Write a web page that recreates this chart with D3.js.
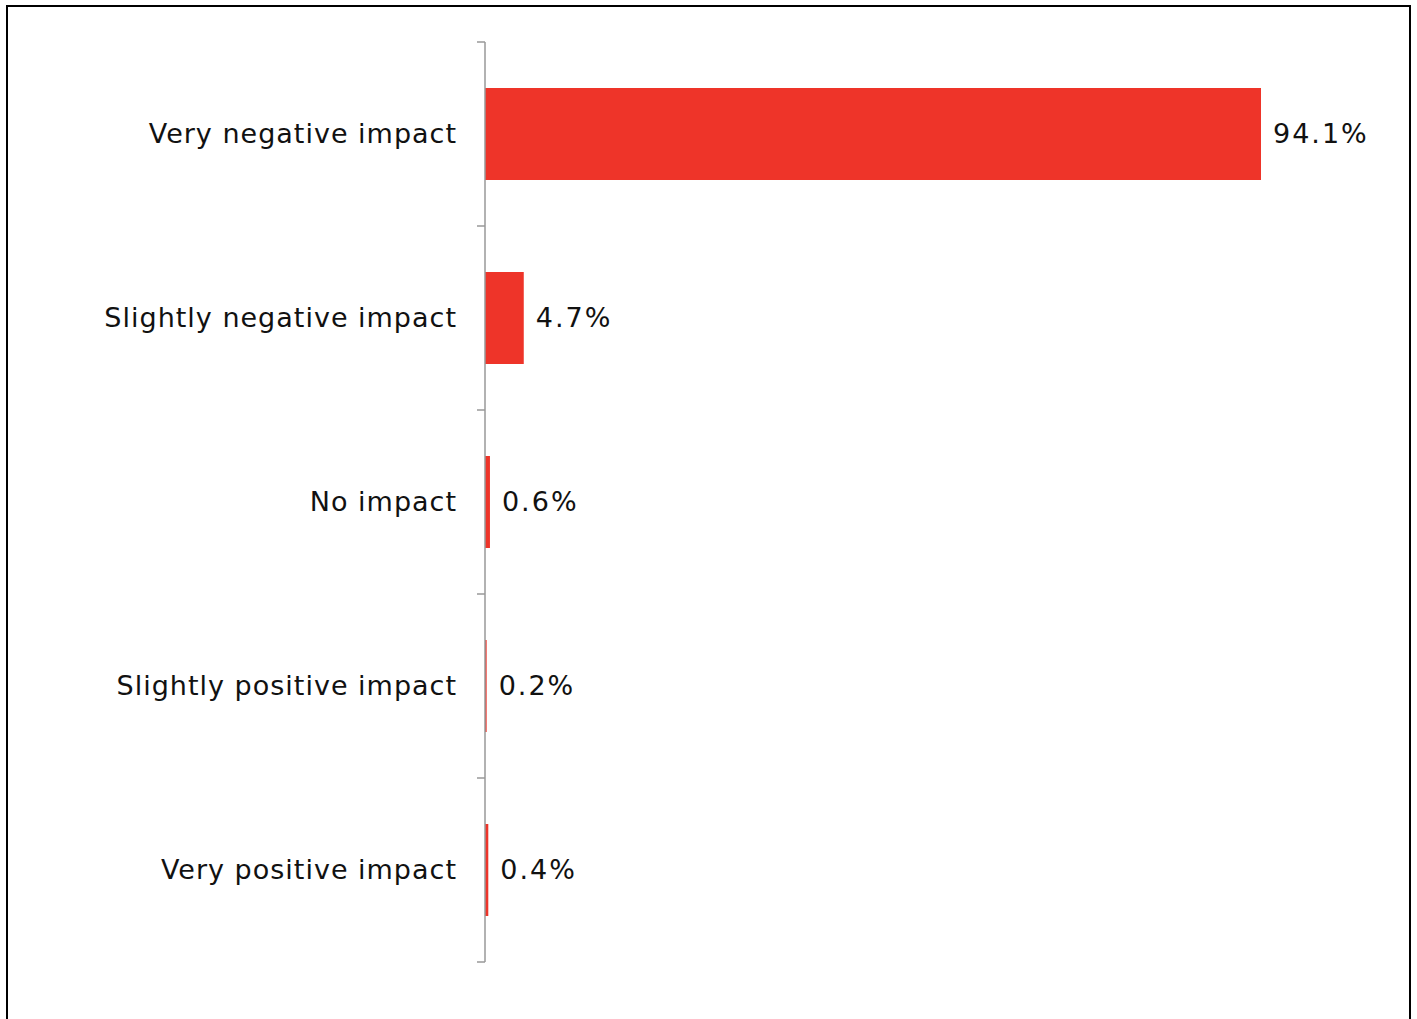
<!DOCTYPE html>
<html>
<head>
    <title>Impact chart</title>
    <script src="https://d3js.org/d3.v7.min.js"></script>
    <style>
        body { margin: 0; background: #fff; }
    </style>
</head>
<body>
<script>
    var categories = ["Very negative impact", "Slightly negative impact", "No impact",
                      "Slightly positive impact", "Very positive impact"];
    var values = [94.1, 4.7, 0.6, 0.2, 0.4];
    var valueLabels = ["94.1%", "4.7%", "0.6%", "0.2%", "0.4%"];

    var width = 1417, height = 1019;

    var svg = d3.select("body").append("svg")
        .attr("width", width)
        .attr("height", height);

    // outer frame, bottom edge falls outside the picture
    svg.append("rect")
        .attr("x", 7).attr("y", 6)
        .attr("width", 1403).attr("height", 1030)
        .attr("fill", "none")
        .attr("stroke", "#000")
        .attr("stroke-width", 2);

    var x = d3.scaleLinear().domain([0, 94.1]).range([485, 1261]);
    var y = d3.scaleBand().domain(categories).range([42, 962]).paddingInner(0.5).paddingOuter(0.25);

    var fontFamily = "'DejaVu Sans', Verdana, sans-serif";

    svg.selectAll("rect.bar")
        .data(values)
        .enter().append("rect")
        .attr("class", "bar")
        .attr("x", x(0))
        .attr("y", function(d, i) { return y(categories[i]); })
        .attr("width", function(d) { return x(d) - x(0); })
        .attr("height", y.bandwidth())
        .attr("fill", "#ee3429");

    // axis line with ticks between categories
    var axisG = svg.append("g").attr("transform", "translate(485,0)");
    axisG.append("line")
        .attr("x1", 0).attr("x2", 0)
        .attr("y1", 42).attr("y2", 962)
        .attr("stroke", "#999").attr("stroke-width", 1.5);
    var bounds = d3.range(categories.length + 1).map(function(i) { return 42 + i * y.step(); });
    axisG.selectAll("line.sep")
        .data(bounds)
        .enter().append("line")
        .attr("class", "sep")
        .attr("x1", -8).attr("x2", 0)
        .attr("y1", function(d) { return d; })
        .attr("y2", function(d) { return d; })
        .attr("stroke", "#999").attr("stroke-width", 1.5);

    svg.selectAll("text.cat")
        .data(categories)
        .enter().append("text")
        .attr("class", "cat")
        .attr("x", 457)
        .attr("y", function(d) { return y(d) + y.bandwidth() / 2; })
        .attr("dy", "0.35em")
        .attr("text-anchor", "end")
        .attr("font-family", fontFamily)
        .attr("font-size", "27px")
        .attr("letter-spacing", "1px")
        .attr("fill", "#111")
        .text(function(d) { return d; });

    svg.selectAll("text.val")
        .data(values)
        .enter().append("text")
        .attr("class", "val")
        .attr("x", function(d) { return x(d) + 12; })
        .attr("y", function(d, i) { return y(categories[i]) + y.bandwidth() / 2; })
        .attr("dy", "0.35em")
        .attr("font-family", fontFamily)
        .attr("font-size", "27px")
        .attr("letter-spacing", "2px")
        .attr("fill", "#111")
        .text(function(d, i) { return valueLabels[i]; });
</script>
</body>
</html>
